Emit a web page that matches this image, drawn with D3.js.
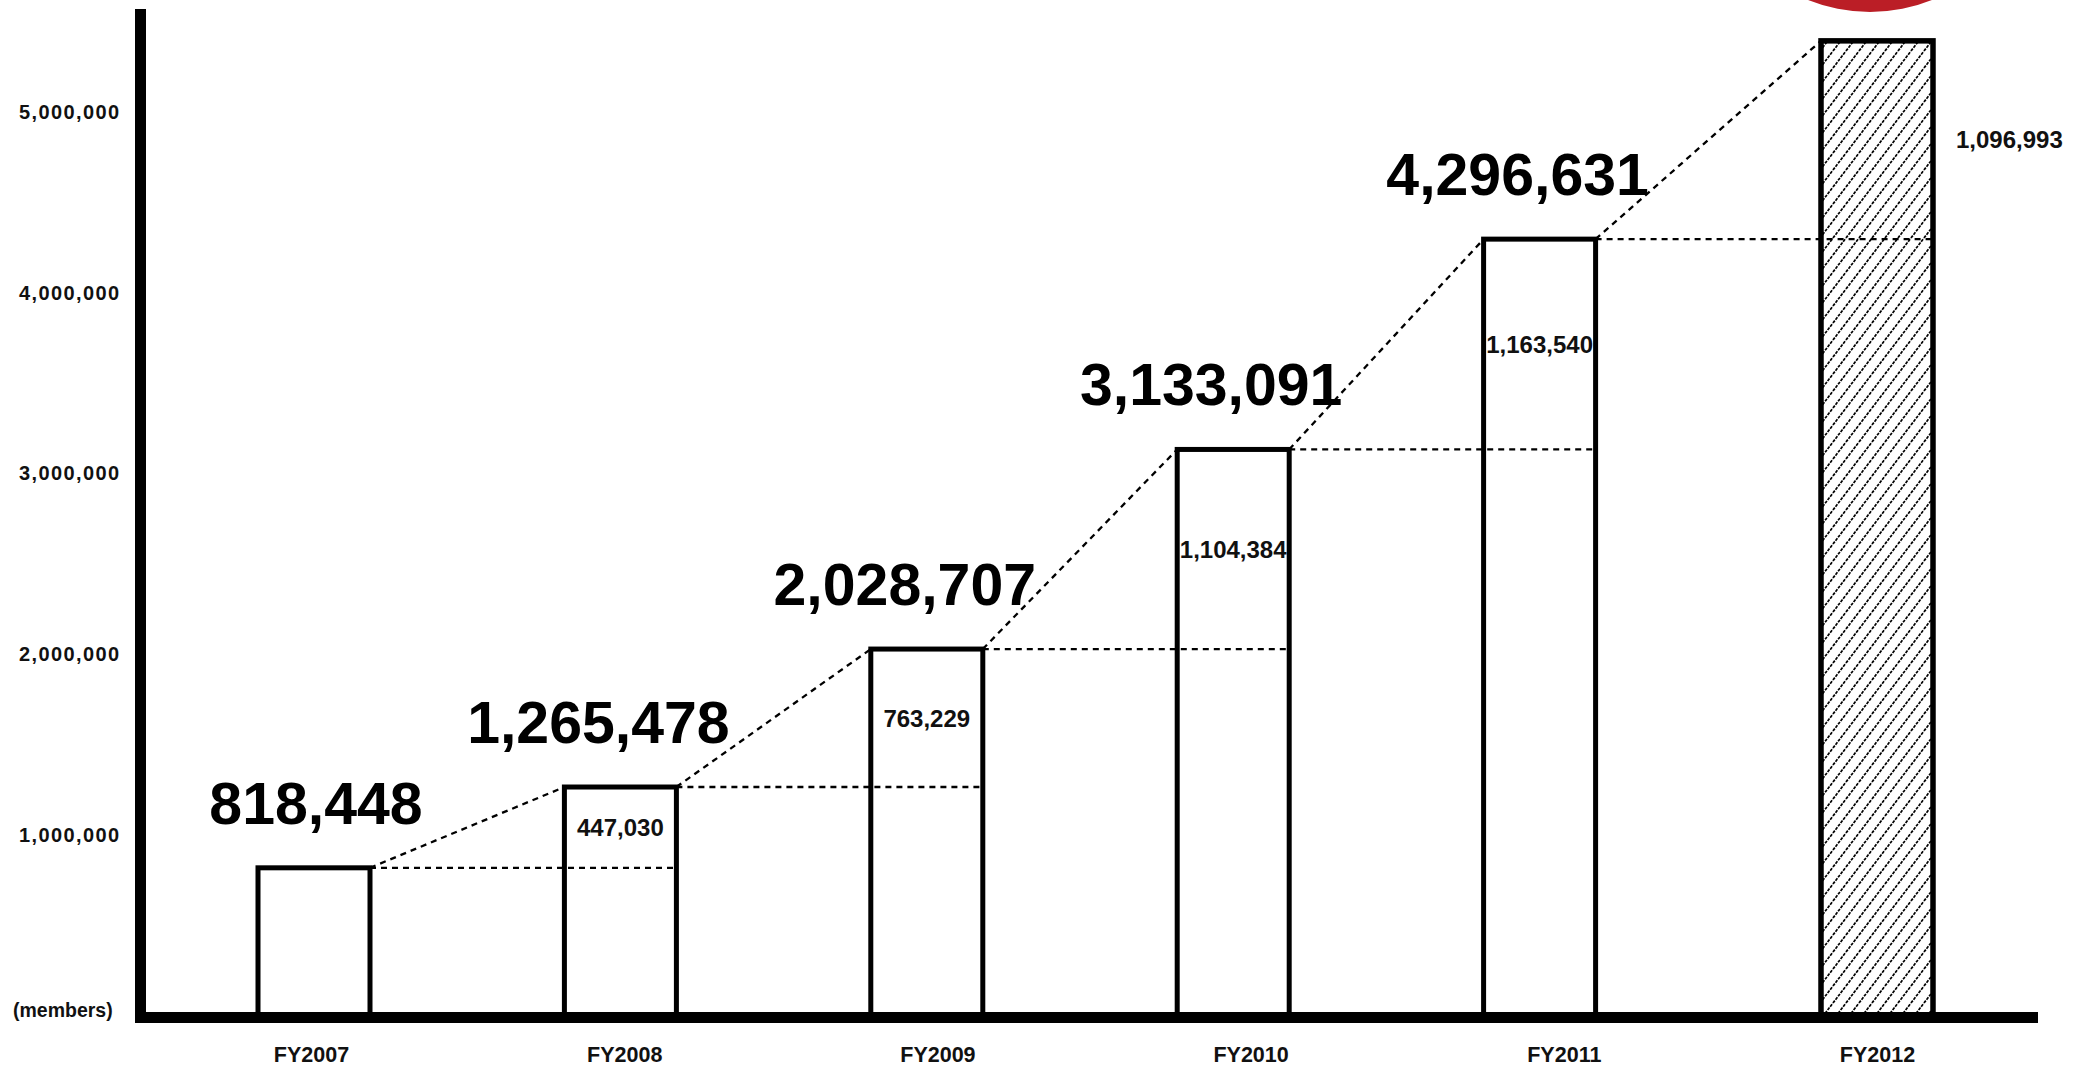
<!DOCTYPE html>
<html>
<head>
<meta charset="utf-8">
<script src="https://cdn.jsdelivr.net/npm/d3@7"></script>
<style>
  html, body { margin: 0; padding: 0; background: #fff; }
  svg { display: block; font-family: "Liberation Sans", Arial, Helvetica, sans-serif; font-weight: bold; }
</style>
</head>
<body>
<svg id="chart" width="2091" height="1067"></svg>
<script>
// Membership totals by fiscal year; FY2012 is the projected year (hatched bar)
const fiscalYears = ["FY2007", "FY2008", "FY2009", "FY2010", "FY2011", "FY2012"];
const members     = [818448, 1265478, 2028707, 3133091, 4296631, 5393624];
const increases   = [null, 447030, 763229, 1104384, 1163540, 1096993];
const projected   = [false, false, false, false, false, true];
const yTickValues = [1000000, 2000000, 3000000, 4000000, 5000000];

const svg = d3.select("#chart");

const axisX = 140.5;      // centre of the vertical axis stroke
const axisY = 1017.5;     // centre of the horizontal axis stroke
const axisWidth = 11;
const barW = 112;
const projectedGap = 31;  // projected year sits a little further right

const y = d3.scaleLinear().domain([0, 5000000]).range([1015.75, 112]);
// bar centres and category label centres
const x = d3.scalePoint().domain(fiscalYears).range([314, 1846]);
const xLabel = d3.scalePoint().domain(fiscalYears).range([311, 1877]);
const cx = (d, i) => x(d) + (projected[i] ? projectedGap : 0);

const bars = fiscalYears.map((fy, i) => ({
  fy, i, total: members[i], inc: increases[i], proj: projected[i],
  left: cx(fy, i) - barW / 2, right: cx(fy, i) + barW / 2, top: y(members[i])
}));

// hatch for the projected bar
const defs = svg.append("defs");
const pw = 13, ph = 17;
const pat = defs.append("pattern")
  .attr("id", "hatch").attr("patternUnits", "userSpaceOnUse")
  .attr("width", pw).attr("height", ph);
pat.append("rect").attr("width", pw).attr("height", ph).attr("fill", "#fff");
[[-pw, ph, 0, 0], [0, ph, pw, 0], [pw, ph, 2 * pw, 0]].forEach(([x1, y1, x2, y2]) => {
  pat.append("line").attr("x1", x1).attr("y1", y1).attr("x2", x2).attr("y2", y2)
    .attr("stroke", "#000").attr("stroke-width", 1.7).attr("stroke-dasharray", "3,1.2");
});

// red disc at the top edge
svg.append("circle").attr("cx", 1870).attr("cy", -154).attr("r", 166).attr("fill", "#bb1e26");

// bars
svg.append("g").selectAll("rect").data(bars).join("rect")
  .attr("x", d => d.left)
  .attr("y", d => d.top)
  .attr("width", barW)
  .attr("height", d => y(0) - d.top)
  .attr("fill", d => d.proj ? "url(#hatch)" : "#fff")
  .attr("stroke", "#000")
  .attr("stroke-width", d => d.proj ? 5.5 : 5);

// dotted guides: level of each total carried to the next bar, and a connector between tops
const guides = svg.append("g").attr("fill", "none").attr("stroke", "#000")
  .attr("stroke-width", 2.3).attr("stroke-dasharray", "6,5");
for (let i = 0; i < bars.length - 1; i++) {
  const a = bars[i], b = bars[i + 1];
  guides.append("line").attr("x1", a.right).attr("y1", a.top).attr("x2", b.right).attr("y2", a.top);
  guides.append("line").attr("x1", a.right).attr("y1", a.top).attr("x2", b.left).attr("y2", b.top);
}

// totals above the actual bars
svg.append("g").selectAll("text").data(bars.filter(d => !d.proj)).join("text")
  .attr("x", d => (d.i === 0 ? cx(d.fy, d.i) + 2 : cx(d.fy, d.i) - 22))
  .attr("y", d => d.top - 44)
  .attr("text-anchor", "middle")
  .attr("font-size", 59)
  .attr("fill", "#000")
  .text(d => d3.format(",")(d.total));

// year-on-year increases
const fmt = d3.format(",");
svg.append("g").selectAll("text").data(bars.filter(d => d.inc !== null)).join("text")
  .attr("x", d => d.proj ? d.right + 23 : cx(d.fy, d.i))
  .attr("y", d => (y(members[d.i - 1]) + d.top) / 2)
  .attr("text-anchor", d => d.proj ? "start" : "middle")
  .attr("dominant-baseline", "central")
  .attr("font-size", 24)
  .attr("fill", "#111")
  .text(d => fmt(d.inc));

// y axis labels
const yAxis = d3.axisLeft(y).tickValues(yTickValues).tickFormat(d3.format(","))
  .tickSizeInner(0).tickSizeOuter(0).tickPadding(20);
const gy = svg.append("g").attr("transform", `translate(${axisX},0)`).call(yAxis);
gy.select(".domain").remove();
gy.selectAll("text").attr("font-size", 20).attr("font-family", null)
  .attr("font-weight", "bold").attr("fill", "#111").style("letter-spacing", "1.4px");

// x axis labels
const xAxis = d3.axisBottom(xLabel).tickSizeInner(0).tickSizeOuter(0).tickPadding(0);
const gx = svg.append("g").attr("transform", `translate(0,${axisY})`).call(xAxis);
gx.select(".domain").remove();
gx.selectAll("text").attr("font-size", 21.5).attr("font-family", null)
  .attr("font-weight", "bold").attr("fill", "#111")
  .attr("dy", null).attr("y", 44);

// unit
svg.append("text").attr("x", 13).attr("y", 1017).attr("font-size", 19.5).attr("fill", "#111")
  .text("(members)");

// axis lines
svg.append("line").attr("x1", axisX).attr("x2", axisX).attr("y1", 9).attr("y2", axisY + axisWidth / 2)
  .attr("stroke", "#000").attr("stroke-width", axisWidth);
svg.append("line").attr("x1", axisX - axisWidth / 2).attr("x2", 2038).attr("y1", axisY).attr("y2", axisY)
  .attr("stroke", "#000").attr("stroke-width", axisWidth);
</script>
</body>
</html>
